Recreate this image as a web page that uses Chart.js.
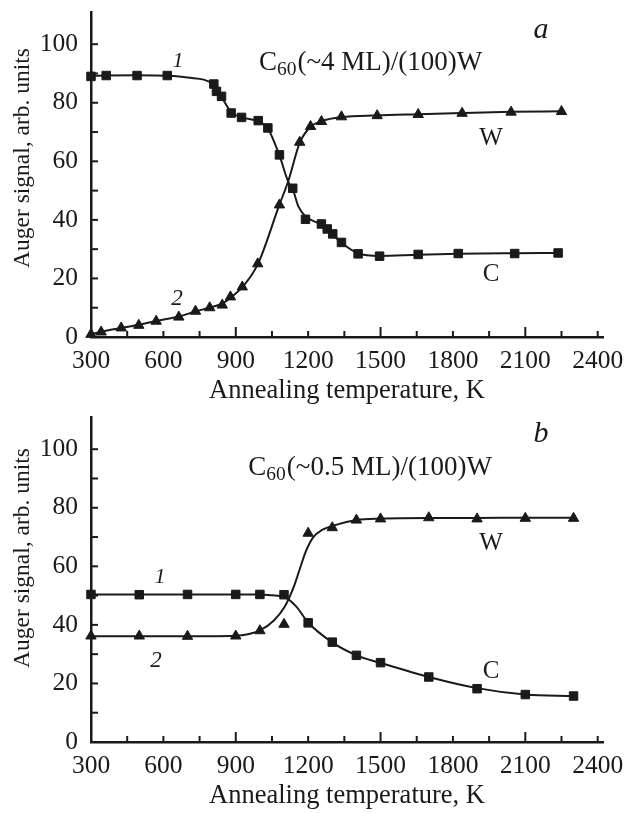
<!DOCTYPE html>
<html>
<head>
<meta charset="utf-8">
<script src="https://cdn.jsdelivr.net/npm/chart.js@4.4.1/dist/chart.umd.min.js"></script>
<style>
  body { margin: 0; background: #fff; width: 626px; height: 813px; overflow: hidden; position: relative; }
  canvas { position: absolute; left: 0; }
</style>
</head>
<body>
<canvas id="chartA" width="626" height="412" style="top:0"></canvas>
<canvas id="chartB" width="626" height="408" style="top:405px"></canvas>
<script>
// ---------------------------
// Data
// ---------------------------

// axes
const xTicks = [300, 450, 600, 750, 900, 1050, 1200, 1350, 1500, 1650, 1800, 1950, 2100, 2250, 2400];
const xLabels = [300, 600, 900, 1200, 1500, 1800, 2100, 2400];
const xTallTicks = [900, 1500, 2100];
const yTicks = [0, 10, 20, 30, 40, 50, 60, 70, 80, 90, 100];
const yLabels = [0, 20, 40, 60, 80, 100];

// panel a: C60 (~4 ML) / (100)W
const aTempC = [300, 363, 491, 616, 809, 820, 841, 881, 924, 993, 1033, 1081, 1136, 1189, 1255, 1279, 1302, 1338, 1407, 1496, 1656, 1822, 2056, 2236];
const aSignalC = [89.0, 89.3, 89.3, 89.3, 86.4, 83.9, 82.2, 76.5, 75.0, 73.9, 71.4, 62.2, 50.8, 40.2, 38.6, 36.9, 35.2, 32.3, 28.4, 27.6, 28.2, 28.5, 28.5, 28.7];
const aTempW = [300, 342, 425, 498, 570, 664, 733, 792, 844, 878, 927, 991, 1081, 1165, 1210, 1255, 1338, 1486, 1656, 1838, 2041, 2250];
const aSignalW = [0.9, 1.7, 3.1, 4.0, 5.4, 6.8, 8.8, 10.0, 10.9, 13.7, 17.1, 25.0, 45.1, 66.5, 71.9, 73.6, 75.2, 75.6, 76.0, 76.4, 76.8, 77.0];
// fitted curves of panel a
const aFitTempC = [300, 363, 491, 616, 700, 809, 841, 881, 924, 993, 1033, 1081, 1117, 1136, 1160, 1189, 1255, 1302, 1338, 1407, 1496, 1656, 1822, 2056, 2236];
const aFitC = [89.2, 89.3, 89.4, 89.2, 88.6, 86.2, 82.0, 76.8, 75.0, 73.7, 71.2, 62.0, 53.1, 50.5, 44.5, 41.2, 38.3, 35.0, 32.2, 28.6, 27.7, 28.1, 28.4, 28.6, 28.7];
const aFitTempW = [300, 342, 425, 498, 570, 664, 733, 792, 844, 878, 927, 991, 1081, 1117, 1165, 1210, 1255, 1338, 1486, 1656, 1838, 2041, 2250];
const aFitW = [0.9, 1.8, 3.1, 4.2, 5.5, 7.0, 8.7, 10.1, 11.4, 13.4, 17.0, 24.8, 45.2, 53.1, 66.3, 71.8, 73.7, 75.1, 75.7, 76.1, 76.5, 76.9, 77.1];

// panel b: C60 (~0.5 ML) / (100)W
const bTempC = [300, 500, 700, 900, 1000, 1100, 1200, 1300, 1400, 1500, 1700, 1900, 2100, 2300];
const bSignalC = [50.4, 50.3, 50.4, 50.4, 50.4, 50.3, 40.7, 34.1, 29.6, 27.1, 22.2, 18.2, 16.2, 15.7];
const bTempW = [300, 500, 700, 900, 1000, 1100, 1200, 1300, 1400, 1500, 1700, 1900, 2100, 2300];
const bSignalW = [36.2, 36.2, 36.1, 36.2, 38.0, 40.2, 71.3, 73.2, 75.8, 76.2, 76.6, 76.2, 76.4, 76.4];
// fitted curves of panel b
const bFitTempC = [300, 500, 700, 900, 1000, 1050, 1100, 1150, 1200, 1300, 1400, 1500, 1700, 1900, 2100, 2300];
const bFitC = [50.4, 50.4, 50.4, 50.4, 50.4, 50.1, 49.6, 46.3, 40.8, 34.0, 29.6, 27.0, 22.2, 18.4, 16.2, 15.7];
const bFitTempW = [300, 500, 700, 900, 950, 1000, 1058, 1102, 1140, 1165, 1190, 1220, 1260, 1300, 1400, 1500, 1700, 1900, 2100, 2300];
const bFitW = [36.1, 36.1, 36.1, 36.3, 36.8, 38.1, 41.5, 46.1, 52.9, 59.0, 65.0, 69.8, 72.5, 73.8, 75.8, 76.3, 76.5, 76.5, 76.6, 76.6];

// ---------------------------
// Look
// ---------------------------

const INK = "#1a1a1a";
const SERIF = '"Liberation Serif", "Times New Roman", serif';
// wanted plot box inside each canvas
const AREA = { left: 91, right: 603, top: 12, bottom: 337 };

function xy(xs, ys) {
  return xs.map((x, i) => ({ x: x, y: ys[i] }));
}

function fitLine(xs, ys) {
  return {
    data: xy(xs, ys),
    showLine: true,
    borderColor: INK,
    borderWidth: 2,
    pointRadius: 0,
    cubicInterpolationMode: "monotone",
    clip: false
  };
}

function markers(xs, ys, style) {
  return {
    data: xy(xs, ys),
    showLine: false,
    pointStyle: style,
    pointRadius: 6,
    backgroundColor: INK,
    borderColor: INK,
    borderWidth: 1,
    clip: false
  };
}

// inner ticks, axis titles and the notes on the panel
const figurePlugin = {
  id: "figure",
  afterDraw(chart, args, opts) {
    const { ctx, chartArea: area } = chart;
    const x = chart.scales.x;
    const y = chart.scales.y;
    ctx.save();
    ctx.strokeStyle = INK;
    ctx.lineWidth = 2;

    xTicks.slice(1).forEach(v => {
      const px = x.getPixelForValue(v);
      const len = xTallTicks.includes(v) ? 10 : 6;
      ctx.beginPath();
      ctx.moveTo(px, area.bottom);
      ctx.lineTo(px, area.bottom - len);
      ctx.stroke();
    });
    yTicks.slice(1).forEach(v => {
      const py = y.getPixelForValue(v);
      ctx.beginPath();
      ctx.moveTo(area.left, py);
      ctx.lineTo(area.left + 7, py);
      ctx.stroke();
    });

    ctx.fillStyle = INK;

    // x title
    ctx.font = "26.5px " + SERIF;
    ctx.textAlign = "center";
    ctx.textBaseline = "alphabetic";
    ctx.fillText("Annealing temperature, K", (area.left + area.right) / 2, area.bottom + 61);

    // y title
    ctx.save();
    ctx.translate(23, opts.yTitleCenter);
    ctx.rotate(-Math.PI / 2);
    ctx.font = "23.5px " + SERIF;
    ctx.textBaseline = "middle";
    ctx.fillText("Auger signal, arb. units", 0, 0);
    ctx.restore();

    // single notes
    ctx.textBaseline = "alphabetic";
    opts.notes.forEach(n => {
      ctx.font = n.font + " " + SERIF;
      ctx.textAlign = "center";
      ctx.fillText(n.text, x.getPixelForValue(n.t), y.getPixelForValue(n.v));
    });

    // sample formula with subscript
    const f = opts.formula;
    let fx = x.getPixelForValue(f.t);
    const fy = y.getPixelForValue(f.v);
    ctx.textAlign = "left";
    ctx.font = "27px " + SERIF;
    ctx.fillText("C", fx, fy);
    fx += ctx.measureText("C").width;
    ctx.font = "19.5px " + SERIF;
    ctx.fillText("60", fx, fy + 5);
    fx += ctx.measureText("60").width + 1;
    ctx.font = "27px " + SERIF;
    ctx.fillText(f.rest, fx, fy);

    ctx.restore();
  }
};

function makeChart(id, datasets, panel) {
  const canvas = document.getElementById(id);
  const xHeight = canvas.height - AREA.bottom;
  const tickFont = { family: SERIF, size: 25.5 };

  return new Chart(canvas.getContext("2d"), {
    type: "scatter",
    data: { datasets: datasets },
    plugins: [figurePlugin],
    options: {
      responsive: false,
      animation: false,
      events: [],
      devicePixelRatio: 1,
      layout: { padding: { top: AREA.top, right: canvas.width - AREA.right, left: 0, bottom: 0 } },
      plugins: {
        legend: { display: false },
        tooltip: { enabled: false },
        figure: panel
      },
      scales: {
        x: {
          type: "linear",
          min: 300,
          max: 2422,
          afterBuildTicks: s => { s.ticks = xTicks.map(v => ({ value: v })); },
          // fixed box; label overhang must not push the plot area around
          afterFit: s => { s.height = xHeight; s.paddingLeft = 0; s.paddingRight = 0; },
          ticks: {
            autoSkip: false,
            maxRotation: 0,
            padding: 9,
            color: INK,
            font: tickFont,
            callback: v => (xLabels.includes(v) ? String(v) : "")
          },
          grid: { display: true, drawOnChartArea: false, drawTicks: false },
          border: { display: true, width: 2.5, color: INK }
        },
        y: {
          min: 0,
          max: 111,
          afterBuildTicks: s => { s.ticks = yTicks.map(v => ({ value: v })); },
          afterFit: s => { s.width = AREA.left; s.paddingTop = 0; s.paddingBottom = 0; },
          ticks: {
            autoSkip: false,
            padding: 13,
            color: INK,
            font: tickFont,
            callback: v => (yLabels.includes(v) ? String(v) : "")
          },
          grid: { display: true, drawOnChartArea: false, drawTicks: false },
          border: { display: true, width: 2.5, color: INK }
        }
      }
    }
  });
}

makeChart("chartA", [
  fitLine(aFitTempC, aFitC),
  fitLine(aFitTempW, aFitW),
  markers(aTempC, aSignalC, "rect"),
  markers(aTempW, aSignalW, "triangle")
], {
  yTitleCenter: 158,
  formula: { t: 996, v: 91.2, rest: "(~4 ML)/(100)W" },
  notes: [
    { text: "a", t: 2165, v: 102.1, font: "italic 30px" },
    { text: "1", t: 661, v: 92.2, font: "italic 22px" },
    { text: "2", t: 656, v: 10.9, font: "italic 23px" },
    { text: "W", t: 1958, v: 65.6, font: "25px" },
    { text: "C", t: 1958, v: 19.1, font: "25px" }
  ]
});

makeChart("chartB", [
  fitLine(bFitTempC, bFitC),
  fitLine(bFitTempW, bFitW),
  markers(bTempC, bSignalC, "rect"),
  markers(bTempW, bSignalW, "triangle")
], {
  yTitleCenter: 153,
  formula: { t: 952, v: 91.2, rest: "(~0.5 ML)/(100)W" },
  notes: [
    { text: "b", t: 2165, v: 102.5, font: "italic 30px" },
    { text: "1", t: 586, v: 54.3, font: "italic 22px" },
    { text: "2", t: 569, v: 25.6, font: "italic 23px" },
    { text: "W", t: 1958, v: 65.6, font: "25px" },
    { text: "C", t: 1958, v: 21.9, font: "25px" }
  ]
});
</script>
</body>
</html>
